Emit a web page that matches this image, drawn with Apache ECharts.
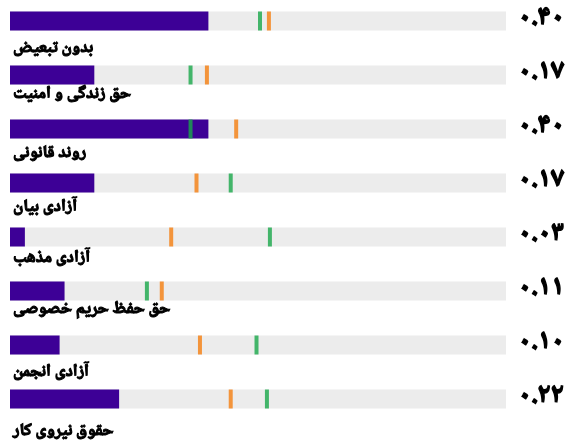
<!DOCTYPE html>
<html>
<head>
<meta charset="utf-8">
<script src="https://cdn.jsdelivr.net/npm/echarts@6/dist/echarts.min.js"></script>
<style>
  html, body { margin: 0; padding: 0; background: #fff; }
  #chart-container { width: 570px; height: 445px; }
</style>
</head>
<body>
<div id="chart-container"></div>
<script>
// rows, top to bottom
const categories = ['بدون تبعیض', 'حق زندگی و امنیت', 'روند قانونی', 'آزادی بیان',
  'آزادی مذهب', 'حق حفظ حریم خصوصی', 'آزادی انجمن', 'حقوق نیروی کار'];
const scores = [0.40, 0.17, 0.40, 0.17, 0.03, 0.11, 0.10, 0.22];
const greenMarks = [0.504, 0.364, 0.364, 0.445, 0.524, 0.276, 0.497, 0.518];
const orangeMarks = [0.522, 0.397, 0.456, 0.376, 0.325, 0.306, 0.383, 0.445];
const fullScale = [1, 1, 1, 1, 1, 1, 1, 1];

// the names don't sit at the same distance under every bar
const nameShift = [4, -4, 1, 1, -2, -5, 4, 9];

const toPersian = s => s.replace(/\d/g, d => '۰۱۲۳۴۵۶۷۸۹'[d]);
const valueLabels = scores.map(v => toPersian(v.toFixed(2)));

const arabicFont = '"Noto Naskh Arabic", "Noto Sans Arabic", "DejaVu Sans", sans-serif';

const myChart = echarts.init(document.getElementById('chart-container'));
const option = {
  animation: false,
  // boundaryGap off -> row centres sit exactly on the grid edges
  grid: { left: 10, right: 64, top: 21, height: 378 },
  xAxis: { type: 'value', min: 0, max: 1, show: false },
  yAxis: [{
    type: 'category',
    inverse: true,
    boundaryGap: false,
    data: categories,
    show: false
  }, {
    type: 'category',
    inverse: true,
    boundaryGap: false,
    position: 'right',
    data: valueLabels,
    axisLine: { show: false },
    axisTick: { show: false },
    axisLabel: {
      align: 'center',
      margin: 35,
      fontSize: 27,
      fontWeight: 'bold',
      color: '#000',
      // the font has no bold face, so thicken it with a stroke
      textBorderColor: '#000',
      textBorderWidth: 1.4,
      fontFamily: arabicFont
    }
  }],
  series: [{
    type: 'bar',
    data: fullScale.map((v, i) => ({ value: v, label: { offset: [-2, 25 + nameShift[i]] } })),
    barWidth: 19,
    barGap: '-100%',
    itemStyle: { color: '#ececec' },
    silent: true,
    label: {
      show: true,
      position: 'insideLeft',
      formatter: '{b}',
      color: '#000',
      fontSize: 17,
      fontWeight: 'bold',
      textBorderColor: '#000',
      textBorderWidth: 1.1,
      fontFamily: arabicFont
    }
  }, {
    type: 'bar',
    data: scores,
    barWidth: 19,
    barGap: '-100%',
    itemStyle: { color: '#3d0096' }
  }, {
    type: 'scatter',
    data: greenMarks.map((v, i) => [v, i]),
    symbol: 'rect',
    symbolSize: [4, 19],
    itemStyle: { color: '#19a74a' },
    z: 5
  }, {
    type: 'scatter',
    data: orangeMarks.map((v, i) => [v, i]),
    symbol: 'rect',
    symbolSize: [4, 19],
    itemStyle: { color: '#f57e0f' },
    z: 5
  }]
};
myChart.setOption(option);
</script>
</body>
</html>
